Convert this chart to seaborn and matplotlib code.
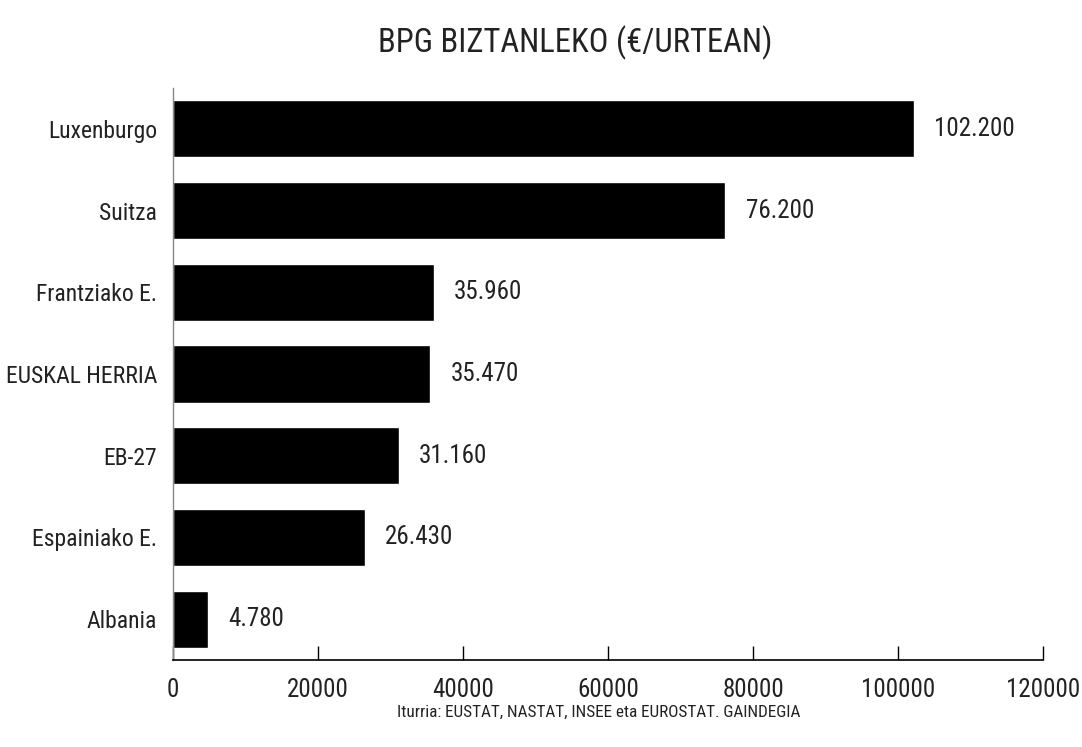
import matplotlib
matplotlib.use("Agg")
import matplotlib.pyplot as plt
from matplotlib import font_manager
import seaborn as sns
import pandas as pd

countries = ["Luxenburgo", "Suitza", "Frantziako E.", "EUSKAL HERRIA", "EB-27", "Espainiako E.", "Albania"]
values = [102200, 76200, 35960, 35470, 31160, 26430, 4780]
xticks = [0, 20000, 40000, 60000, 80000, 100000, 120000]
title = "BPG BIZTANLEKO (€/URTEAN)"
source = "Iturria: EUSTAT, NASTAT, INSEE eta EUROSTAT. GAINDEGIA"

sns.set_theme(style="white")
names = {f.name for f in font_manager.fontManager.ttflist}
cands = ["Liberation Sans Narrow", "DejaVu Sans Condensed", "Roboto Condensed", "Roboto", "Liberation Sans"]
fam = next((c for c in cands if c in names), "DejaVu Sans")
plt.rcParams["font.family"] = [fam, "DejaVu Sans"]

df = pd.DataFrame({"country": countries, "value": values})

fig = plt.figure(figsize=(10.82, 7.47), dpi=100)
ax = fig.add_axes([173/1082, 1-660/747, (1043-173)/1082, (660-88)/747])
sns.barplot(data=df, x="value", y="country", color="black", saturation=1, width=0.7, ax=ax, orient="h")
ax.set_xlim(0, 120000)
ax.set_ylim(6.5, -0.5)
ax.set_xticks(xticks)
ax.set_xticklabels([str(t) for t in xticks], fontsize=18)
ax.tick_params(axis="x", bottom=True, direction="in", length=10, width=1, color="black", pad=13)
ax.tick_params(axis="y", left=False, length=0, pad=11.5, labelsize=17)
for lbl in ax.get_yticklabels():
    lbl.set_color("#222222")
for lbl in ax.get_xticklabels():
    lbl.set_color("#222222")
ax.set_xlabel("")
ax.set_ylabel("")
ax.spines["top"].set_visible(False)
ax.spines["right"].set_visible(False)
ax.spines["left"].set_color("#888888")
ax.spines["left"].set_linewidth(1)
ax.spines["bottom"].set_color("black")
ax.spines["bottom"].set_linewidth(1.2)

for i, v in enumerate(values):
    ax.text(v + 2800, i, f"{v:,}".replace(",", "."), va="center", ha="left", fontsize=18, color="#222222")

fig.text(575/1082, 1-43/747, title, ha="center", va="center", fontsize=23.5, color="#222222")
fig.text(599/1082, 1-712/747, source, ha="center", va="center", fontsize=12.3, color="#222222")

fig.savefig("out.png", dpi=100)
